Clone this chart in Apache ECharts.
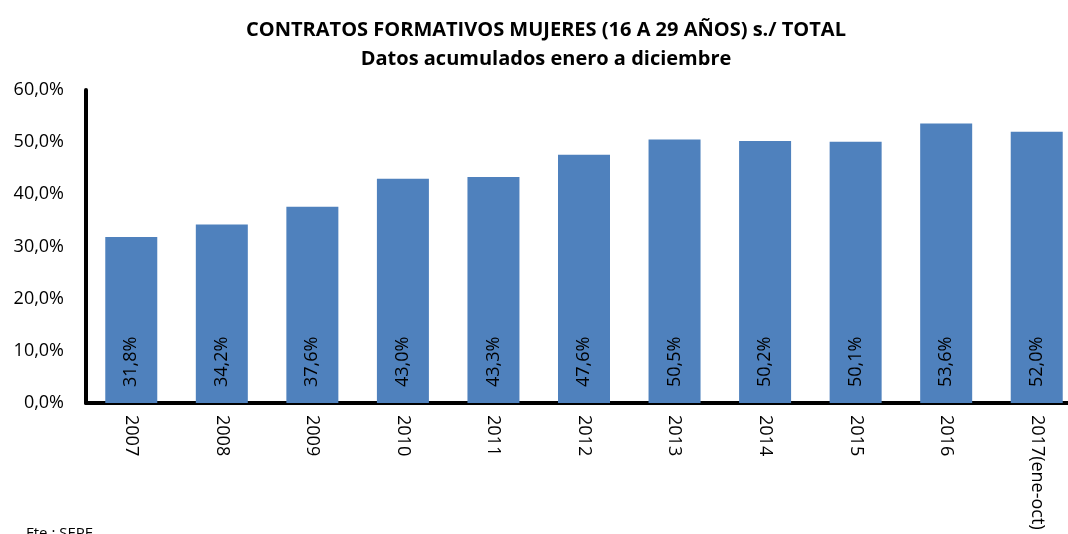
<!DOCTYPE html>
<html>
<head>
<meta charset="utf-8">
<script src="https://cdn.jsdelivr.net/npm/echarts@6/dist/echarts.min.js"></script>
<style>
  html, body { margin: 0; padding: 0; background: #fff; overflow: hidden; }
  #container { width: 1086px; height: 534px; }
</style>
</head>
<body>
<div id="container"></div>
<script>
var years = ['2007', '2008', '2009', '2010', '2011', '2012', '2013', '2014', '2015', '2016', '2017(ene-oct)'];
var pctMujeres = [31.8, 34.2, 37.6, 43.0, 43.3, 47.6, 50.5, 50.2, 50.1, 53.6, 52.0];
var yTicks = [0, 10, 20, 30, 40, 50, 60];

var dom = document.getElementById("container");
var myChart = echarts.init(dom);

function fmt(v) {
    return v.toFixed(1).replace('.', ',') + '%';
}

var option = {
    animation: false,
    textStyle: { fontFamily: 'Open Sans' },
    title: {
        text: 'CONTRATOS FORMATIVOS MUJERES (16 A 29 AÑOS) s./ TOTAL\nDatos acumulados enero a diciembre',
        left: 541,
        top: 11,
        textAlign: 'center',
        textStyle: {
            fontSize: 20,
            fontWeight: 'bold',
            color: '#000',
            lineHeight: 29,
            fontFamily: 'Open Sans'
        }
    },
    grid: {
        left: 86,
        right: 4,
        top: 90,
        bottom: 131,
        containLabel: false
    },
    xAxis: {
        type: 'category',
        data: years,
        axisLine: { lineStyle: { color: '#000', width: 4 } },
        axisTick: { show: false },
        axisLabel: {
            rotate: -90,
            color: '#000',
            fontSize: 18,
            margin: 12,
            interval: 0
        }
    },
    yAxis: {
        type: 'value',
        min: yTicks[0],
        max: yTicks[yTicks.length - 1],
        interval: 10,
        axisLine: { show: true, lineStyle: { color: '#000', width: 4 } },
        axisTick: { show: false },
        splitLine: { show: false },
        axisLabel: {
            color: '#000',
            fontSize: 18,
            margin: 22,
            formatter: function (v) { return fmt(v); }
        }
    },
    series: [
        {
            name: 'Mujeres',
            type: 'bar',
            data: pctMujeres,
            barWidth: 52,
            itemStyle: { color: '#4f81bd' },
            label: {
                show: true,
                position: 'insideBottom',
                rotate: 90,
                align: 'left',
                verticalAlign: 'middle',
                distance: 16,
                color: '#000',
                fontSize: 18,
                formatter: function (p) { return fmt(p.value); }
            }
        }
    ],
    graphic: [
        {
            type: 'text',
            left: 26,
            top: 526,
            style: { text: 'Fte.: SEPE', fontSize: 15, fill: '#000', fontFamily: 'Open Sans' }
        }
    ]
};

if (option && typeof option === "object") {
    myChart.setOption(option, true);
}
</script>
</body>
</html>
